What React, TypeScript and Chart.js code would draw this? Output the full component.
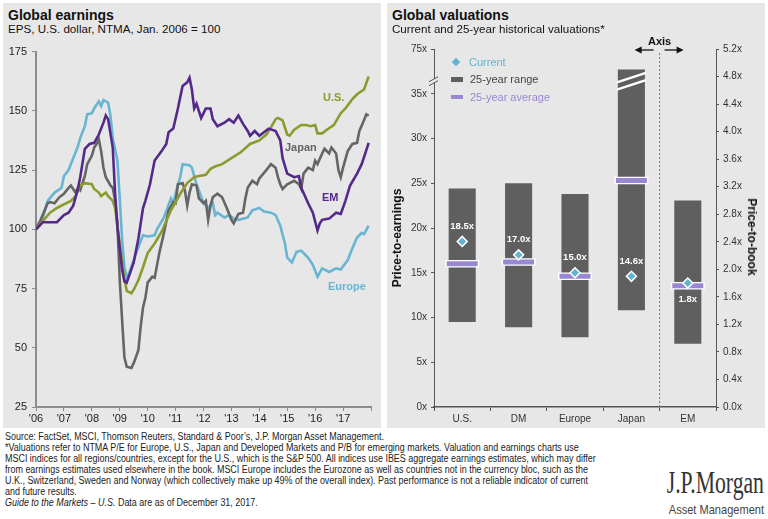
import React, { useEffect, useRef } from 'react';
import { Chart, registerables } from 'chart.js';

Chart.register(...registerables);

const SANS = '"Liberation Sans", Arial, Helvetica, sans-serif';
const NARROW = '"Liberation Sans Narrow", "Arial Narrow", "Liberation Sans", Arial, sans-serif';
const PANEL_BG = '#e7e7e7';

// ---------------- Global earnings (x = months since Jan 2006, y = index, Jan 2006 = 100) ----------------
const YEAR_LABELS = ["'06", "'07", "'08", "'09", "'10", "'11", "'12", "'13", "'14", "'15", "'16", "'17"];

const US: number[][] = [
  [0, 100], [3, 103.5], [6, 107], [9, 109], [12, 110.5], [15, 112], [17, 114], [19, 118.5], [21, 119.5],
  [24, 119], [25, 117], [27, 115.5], [28, 114], [30, 115.5], [31, 114], [33, 112], [34, 109], [36, 94],
  [38, 79], [39, 74], [41, 73], [42, 74.5], [44, 78.5], [46, 84], [48, 90], [51, 94], [54, 99], [58, 108],
  [62, 115], [65, 119.5], [68, 122], [70, 122.5], [73, 123], [75, 125.5], [77, 126.5], [80, 127.5],
  [84, 130], [88, 132.5], [92, 136], [96, 137.5], [99, 140], [101, 143], [103, 146.5], [104, 147],
  [106, 146], [108, 140], [109, 139.5], [111, 142], [114, 144], [116, 144], [118, 143.5], [120, 144],
  [121, 140.5], [123, 140.5], [125, 142], [128, 144], [131, 149], [133, 151], [136, 155], [138, 157],
  [141, 159], [143, 164.5],
];

const JAPAN: number[][] = [
  [0, 100], [2, 104], [5, 111], [6, 111.5], [8, 111], [10, 113.5], [12, 115], [14, 117.5], [15, 118.5],
  [17, 115.5], [18, 117.5], [19, 116.5], [21, 122.5], [22, 127.5], [24, 131], [25, 134.5], [26, 136],
  [27, 138], [28, 133], [29, 126], [30, 122], [32, 118.5], [33, 117.5], [34, 112], [35, 102.5], [36, 78.5],
  [37, 62], [38, 46], [39, 42], [41, 41.5], [42, 43.5], [44, 49], [45, 59], [46, 67], [47, 71], [48, 77.5],
  [50, 80], [51, 79.5], [53, 90], [55, 98.5], [57, 108], [59, 111.5], [60, 111], [61, 119], [63, 119.5],
  [64, 116.5], [65, 110], [66, 115.5], [67, 119], [69, 118.5], [70, 113], [72, 111], [73, 112], [74, 104],
  [75, 110], [76, 113.5], [78, 115], [80, 113.5], [82, 109], [84, 104], [85, 102.5], [87, 106.5], [89, 107],
  [90, 113], [91, 117.5], [93, 120.5], [95, 119], [96, 121.5], [99, 125], [101, 127.5], [103, 126],
  [104, 122], [105, 119], [106, 117], [108, 119], [111, 120.5], [113, 119], [114, 117], [115, 123.5],
  [117, 126], [119, 125], [120, 129], [121, 127.5], [123, 132], [124, 134], [126, 132], [127, 134.5],
  [129, 132], [130, 125], [131, 122], [132, 126], [134, 133], [136, 136], [138, 136.5], [139, 141.5],
  [141, 146], [142, 148.5], [143, 148],
];

const EM: number[][] = [
  [0, 100], [3, 103], [6, 103], [9, 103], [12, 106], [14, 107], [16, 110], [18, 117], [19, 122], [21, 134],
  [23, 136], [25, 136.5], [27, 140], [29, 145], [30, 148], [31, 146.5], [33, 134.5], [34, 115], [35, 101],
  [36, 92], [37, 83], [38, 78], [39, 77.5], [42, 86], [44, 96], [46, 109], [47, 112], [49, 119], [51, 129],
  [54, 133], [56, 136], [57, 141], [59, 142.5], [61, 151], [63, 160.5], [65, 162], [66, 164], [67, 159],
  [68, 151], [69, 153], [71, 147], [73, 151], [75, 151], [76, 146.5], [78, 143.5], [81, 145], [83, 146.5],
  [85, 145], [87, 148], [89, 144.5], [91, 141.5], [92, 139.5], [94, 141.5], [96, 139.5], [100, 142.5],
  [103, 141.5], [105, 137.5], [106, 130], [108, 123.5], [111, 122], [113, 122.5], [114, 117.5], [117, 111],
  [119, 107], [121, 99.5], [122, 102.5], [123, 104], [126, 104.5], [129, 107], [131, 106.5], [133, 112],
  [135, 118.5], [138, 123.5], [140, 127.5], [143, 136.5],
];

const EUROPE: number[][] = [
  [0, 100], [3, 105], [5, 112], [8, 115.5], [11, 117.5], [12, 122.5], [14, 125], [16, 130], [18, 135],
  [19, 138.5], [21, 143.5], [22, 148.5], [24, 149], [25, 151], [27, 154], [28, 152], [29, 154.5],
  [31, 153.5], [32, 148], [33, 138.5], [35, 129], [36, 113], [37, 96], [38, 84], [39, 80], [40, 81.5],
  [42, 87], [44, 92.5], [46, 97.5], [48, 97], [51, 97.5], [52, 100], [55, 105], [58, 113], [59, 111],
  [61, 119], [62, 122], [63, 127.5], [66, 127], [67, 126], [69, 119], [70, 116.5], [72, 111], [74, 109],
  [76, 111], [77, 106], [78, 107], [81, 105], [83, 106], [85, 104.5], [87, 104], [89, 104.5], [91, 105],
  [93, 108], [96, 109], [98, 107.5], [101, 107], [103, 106], [105, 101.5], [107, 94], [108, 88], [110, 86],
  [112, 90.5], [114, 91], [117, 88], [119, 85], [121, 80], [123, 83.5], [126, 82], [129, 83.5], [131, 83],
  [134, 87], [136, 92], [138, 96.5], [140, 98.5], [141, 98], [143, 101.5],
];

// ---------------- Global valuations ----------------
const REGIONS = ['U.S.', 'DM', 'Europe', 'Japan', 'EM'];
const VALUE_AXIS = ['pe', 'pe', 'pe', 'pe', 'pb']; // EM is price-to-book (right axis)
const RANGE_LOW = [9.5, 8.9, 7.8, 10.8, 0.92];
const RANGE_HIGH = [24.4, 25.0, 23.8, 37.7, 3.0]; // Japan runs past the axis break
const AVERAGE = [16.0, 16.2, 14.6, 25.3, 1.76];
const CURRENT = [18.5, 17.0, 15.0, 14.6, 1.8];
const LABEL_BELOW = [false, false, false, false, true];
const PE_TICK_LABELS = ['0x', '5x', '10x', '15x', '20x', '25x', '30x', '35x', '75x'];
const PB_TICK_LABELS = ['0.0x', '0.4x', '0.8x', '1.2x', '1.6x', '2.0x', '2.4x', '2.8x', '3.2x', '3.6x', '4.0x', '4.4x', '4.8x', '5.2x'];
const AXIS_BREAK_PE = 36.4;

const pick = (vals: number[], axis: string) => vals.map((v, i) => (VALUE_AXIS[i] === axis ? v : null));
const pickRange = (axis: string) =>
  RANGE_LOW.map((lo, i) => (VALUE_AXIS[i] === axis ? [lo, RANGE_HIGH[i]] : null));

function EarningsChart() {
  const ref = useRef<HTMLCanvasElement>(null);
  useEffect(() => {
    const mk = (label: string, pts: number[][], color: string) => ({
      label,
      data: pts.map(([x, y]) => ({ x, y })),
      borderColor: color,
      backgroundColor: color,
      borderWidth: 2.6,
      pointRadius: 0,
      tension: 0,
      fill: false,
    });
    const tickFont = { family: SANS, size: 11 };
    const chart = new Chart(ref.current as HTMLCanvasElement, {
      type: 'line',
      data: {
        datasets: [
          mk('EM', EM, '#55298a'),
          mk('U.S.', US, '#8c9a2e'),
          mk('Japan', JAPAN, '#656565'),
          mk('Europe', EUROPE, '#68b5d2'),
        ],
      },
      options: {
        animation: false,
        responsive: false,
        plugins: { legend: { display: false }, tooltip: { enabled: false } },
        layout: { autoPadding: false, padding: { top: 9, right: 10, left: 0, bottom: 0 } },
        scales: {
          x: {
            type: 'linear',
            min: 0,
            max: 144,
            ticks: {
              stepSize: 12,
              autoSkip: false,
              maxRotation: 0,
              padding: 1,
              color: '#222',
              font: tickFont,
              callback: (v: any) => YEAR_LABELS[Math.round(Number(v) / 12)] ?? '',
            },
            grid: { drawOnChartArea: false, drawTicks: true, tickLength: 4, color: '#8c8c8c' },
            border: { display: true, color: '#8c8c8c', width: 2 },
            afterFit: (s: any) => {
              s.height = 21;
            },
          },
          y: {
            min: 25,
            max: 175,
            ticks: { stepSize: 25, padding: 5, color: '#222', font: tickFont },
            grid: { drawOnChartArea: false, drawTicks: true, tickLength: 4, color: '#8c8c8c' },
            border: { display: true, color: '#8c8c8c', width: 2 },
            afterFit: (s: any) => {
              s.width = 36;
            },
          },
        },
      } as any,
    });
    return () => chart.destroy();
  }, []);
  return (
    <canvas
      ref={ref}
      width={381}
      height={388}
      style={{ position: 'absolute', left: 0, top: 40, width: 381, height: 388 }}
    />
  );
}

const valuationDecor = {
  id: 'valuationDecor',
  afterDatasetsDraw(chart: any) {
    const { ctx, chartArea, scales } = chart;
    const xs = scales.x;
    const ys = scales.y;
    ctx.save();

    // broken-scale stripes on the bar that runs past the axis break
    chart.data.datasets.forEach((ds: any, di: number) => {
      if (ds.role !== 'range-pe') return;
      const meta = chart.getDatasetMeta(di);
      meta.data.forEach((bar: any, i: number) => {
        if (VALUE_AXIS[i] !== 'pe' || RANGE_HIGH[i] <= AXIS_BREAK_PE) return;
        const { x, width } = bar.getProps(['x', 'width'], true);
        const yc = ys.getPixelForValue(AXIS_BREAK_PE);
        ctx.strokeStyle = '#ffffff';
        ctx.lineWidth = 2.4;
        for (const off of [-3.6, 3.6]) {
          ctx.beginPath();
          ctx.moveTo(x - width / 2 - 1, yc + off + 4.8);
          ctx.lineTo(x + width / 2 + 1, yc + off - 4.8);
          ctx.stroke();
        }
      });
    });

    // value labels for current valuations
    ctx.font = `bold 9.5px ${SANS}`;
    ctx.fillStyle = '#ffffff';
    ctx.textAlign = 'center';
    ctx.textBaseline = 'middle';
    chart.data.datasets.forEach((ds: any, di: number) => {
      if (ds.role !== 'current') return;
      const meta = chart.getDatasetMeta(di);
      meta.data.forEach((pt: any, i: number) => {
        const v = ds.data[i];
        if (v === null || v === undefined) return;
        const dy = LABEL_BELOW[i] ? 16 : -15;
        ctx.fillText(`${CURRENT[i].toFixed(1)}x`, pt.x, pt.y + dy);
      });
    });

    // axis break on the left scale
    const ax = chartArea.left;
    const yb = ys.getPixelForValue(AXIS_BREAK_PE);
    ctx.fillStyle = PANEL_BG;
    ctx.beginPath();
    ctx.moveTo(ax - 3, yb + 3.5);
    ctx.lineTo(ax + 3, yb + 0.5);
    ctx.lineTo(ax + 3, yb - 3.5);
    ctx.lineTo(ax - 3, yb - 0.5);
    ctx.closePath();
    ctx.fill();
    ctx.strokeStyle = '#555';
    ctx.lineWidth = 1;
    for (const off of [-2, 2]) {
      ctx.beginPath();
      ctx.moveTo(ax - 5, yb + off + 2.5);
      ctx.lineTo(ax + 4, yb + off - 2.5);
      ctx.stroke();
    }

    // separator between P/E and P/B regions
    const sep = (xs.getPixelForValue(3) + xs.getPixelForValue(4)) / 2;
    ctx.strokeStyle = '#7a7a7a';
    ctx.lineWidth = 1;
    ctx.setLineDash([2, 2]);
    ctx.beginPath();
    ctx.moveTo(sep, chartArea.top + 4);
    ctx.lineTo(sep, chartArea.bottom);
    ctx.stroke();
    ctx.setLineDash([]);

    // "Axis" marker with arrows
    const ay = chartArea.top + 1;
    ctx.fillStyle = '#111';
    ctx.font = `bold 11px ${SANS}`;
    ctx.textAlign = 'center';
    ctx.textBaseline = 'middle';
    ctx.fillText('Axis', sep, chartArea.top - 7);
    ctx.strokeStyle = '#111';
    ctx.lineWidth = 1.3;
    const arrow = (from: number, to: number) => {
      const dir = Math.sign(to - from);
      ctx.beginPath();
      ctx.moveTo(from, ay);
      ctx.lineTo(to - dir * 5, ay);
      ctx.stroke();
      ctx.beginPath();
      ctx.moveTo(to, ay);
      ctx.lineTo(to - dir * 7, ay - 3.5);
      ctx.lineTo(to - dir * 7, ay + 3.5);
      ctx.closePath();
      ctx.fill();
    };
    arrow(sep - 6, sep - 25);
    arrow(sep + 5, sep + 24);

    ctx.restore();
  },
};

function ValuationChart() {
  const ref = useRef<HTMLCanvasElement>(null);
  useEffect(() => {
    const tickFont = { family: SANS, size: 10 };
    const avg = (axis: string, color: string, radius: number, width: number, order: number) => ({
      type: 'line',
      role: 'average',
      data: pick(AVERAGE, axis),
      yAxisID: axis === 'pe' ? 'y' : 'y2',
      showLine: false,
      pointStyle: 'line',
      pointRadius: radius,
      pointHoverRadius: radius,
      pointBorderColor: color,
      pointBackgroundColor: color,
      pointBorderWidth: width,
      order,
    });
    const cur = (axis: string) => ({
      type: 'line',
      role: 'current',
      data: pick(CURRENT, axis),
      yAxisID: axis === 'pe' ? 'y' : 'y2',
      showLine: false,
      pointStyle: 'rectRot',
      pointRadius: 5,
      pointHoverRadius: 5,
      pointBackgroundColor: '#62b3cf',
      pointBorderColor: '#ffffff',
      pointBorderWidth: 1.5,
      order: 0,
    });
    const range = (axis: string) => ({
      type: 'bar',
      role: axis === 'pe' ? 'range-pe' : 'range-pb',
      data: pickRange(axis),
      yAxisID: axis === 'pe' ? 'y' : 'y2',
      backgroundColor: '#5f5f5f',
      borderWidth: 0,
      barPercentage: 0.48,
      categoryPercentage: 1,
      grouped: false,
      order: 3,
    });
    const chart = new Chart(ref.current as HTMLCanvasElement, {
      type: 'bar',
      data: {
        labels: REGIONS,
        datasets: [
          cur('pe'),
          cur('pb'),
          avg('pe', '#9a87d4', 15.5, 5, 1),
          avg('pb', '#9a87d4', 15.5, 5, 1),
          avg('pe', '#ffffff', 17, 7.5, 2),
          avg('pb', '#ffffff', 17, 7.5, 2),
          range('pe'),
          range('pb'),
        ] as any,
      },
      options: {
        animation: false,
        responsive: false,
        plugins: { legend: { display: false }, tooltip: { enabled: false } },
        layout: { autoPadding: false, padding: { top: 19, right: 0, left: 0, bottom: 0 } },
        scales: {
          x: {
            offset: true,
            ticks: { color: '#333', font: tickFont, padding: 2, maxRotation: 0 },
            grid: { offset: true, drawOnChartArea: false, drawTicks: true, tickLength: 4, color: '#555' },
            border: { display: true, color: '#555', width: 1.5 },
            afterFit: (s: any) => {
              s.height = 21;
            },
          },
          y: {
            position: 'left',
            min: 0,
            max: 40,
            ticks: {
              stepSize: 5,
              padding: 4,
              color: '#333',
              font: tickFont,
              callback: (v: any) => PE_TICK_LABELS[Math.round(Number(v) / 5)] ?? '',
            },
            grid: { drawOnChartArea: false, drawTicks: true, tickLength: 3, color: '#555' },
            border: { display: true, color: '#555', width: 1 },
            afterFit: (s: any) => {
              s.width = 47;
            },
          },
          y2: {
            position: 'right',
            min: 0,
            max: 5.2,
            ticks: {
              stepSize: 0.4,
              padding: 4,
              color: '#333',
              font: tickFont,
              callback: (v: any) => PB_TICK_LABELS[Math.round(Number(v) / 0.4)] ?? '',
            },
            grid: { drawOnChartArea: false, drawTicks: true, tickLength: 3, color: '#555' },
            border: { display: true, color: '#555', width: 1 },
            afterFit: (s: any) => {
              s.width = 49;
            },
          },
        },
      } as any,
      plugins: [valuationDecor],
    });
    return () => chart.destroy();
  }, []);
  return (
    <canvas
      ref={ref}
      width={378}
      height={398}
      style={{ position: 'absolute', left: 387, top: 30, width: 378, height: 398 }}
    />
  );
}

const abs = (o: React.CSSProperties): React.CSSProperties => ({ position: 'absolute', whiteSpace: 'nowrap', ...o });

const FOOTNOTES = [
  'Source: FactSet, MSCI, Thomson Reuters, Standard & Poor\u2019s, J.P. Morgan Asset Management.',
  '*Valuations refer to NTMA P/E for Europe, U.S., Japan and Developed Markets and P/B for emerging markets. Valuation and earnings charts use',
  'MSCI indices for all regions/countries, except for the U.S., which is the S&P 500. All indices use IBES aggregate earnings estimates, which may differ',
  'from earnings estimates used elsewhere in the book. MSCI Europe includes the Eurozone as well as countries not in the currency bloc, such as the',
  'U.K., Switzerland, Sweden and Norway (which collectively make up 49% of the overall index). Past performance is not a reliable indicator of current',
  'and future results.',
];

export default function App() {
  return (
    <div
      style={{
        position: 'absolute',
        left: 0,
        top: 0,
        width: 768,
        height: 519,
        background: '#ffffff',
        overflow: 'hidden',
        fontFamily: SANS,
        color: '#111',
      }}
    >
      <div style={abs({ left: 3, top: 3, width: 378, height: 425, background: PANEL_BG })} />
      <div style={abs({ left: 387, top: 3, width: 378, height: 425, background: PANEL_BG })} />

      <EarningsChart />
      <ValuationChart />

      {/* Left titles */}
      <div style={abs({ left: 8, top: 7, fontSize: 14, fontWeight: 'bold', lineHeight: '16px' })}>Global earnings</div>
      <div style={abs({ left: 8, top: 22, fontSize: 11.6, lineHeight: '14px' })}>EPS, U.S. dollar, NTMA, Jan. 2006 = 100</div>

      {/* Left series labels */}
      <div style={abs({ left: 323, top: 90, fontSize: 11, fontWeight: 'bold', color: '#8c9a2e', lineHeight: '14px' })}>U.S.</div>
      <div style={abs({ left: 285, top: 140, fontSize: 11, fontWeight: 'bold', color: '#656565', lineHeight: '14px' })}>Japan</div>
      <div style={abs({ left: 322, top: 190, fontSize: 11, fontWeight: 'bold', color: '#55298a', lineHeight: '14px' })}>EM</div>
      <div style={abs({ left: 328, top: 279, fontSize: 11, fontWeight: 'bold', color: '#68b5d2', lineHeight: '14px' })}>Europe</div>

      {/* Right titles */}
      <div style={abs({ left: 392, top: 7, fontSize: 14, fontWeight: 'bold', lineHeight: '16px' })}>Global valuations</div>
      <div style={abs({ left: 392, top: 22, fontSize: 11.6, lineHeight: '14px' })}>Current and 25-year historical valuations*</div>

      {/* Legend */}
      <div style={abs({ left: 453, top: 59, width: 6, height: 6, background: '#62b3cf', transform: 'rotate(45deg)' })} />
      <div style={abs({ left: 469, top: 55, fontSize: 11, color: '#62b3cf', lineHeight: '14px' })}>Current</div>
      <div style={abs({ left: 451, top: 77, width: 12, height: 5, background: '#5f5f5f' })} />
      <div style={abs({ left: 470, top: 72, fontSize: 11, color: '#444', lineHeight: '14px' })}>25-year range</div>
      <div style={abs({ left: 451, top: 95, width: 12, height: 4, background: '#9a87d4' })} />
      <div style={abs({ left: 470, top: 90, fontSize: 11, color: '#9a87d4', lineHeight: '14px' })}>25-year average</div>

      {/* Axis titles */}
      <div
        style={abs({
          left: 397,
          top: 238,
          fontSize: 12,
          fontWeight: 'bold',
          lineHeight: '14px',
          transform: 'translate(-50%, -50%) rotate(-90deg)',
        })}
      >
        Price-to-earnings
      </div>
      <div
        style={abs({
          left: 752,
          top: 237,
          fontSize: 12,
          fontWeight: 'bold',
          lineHeight: '14px',
          transform: 'translate(-50%, -50%) rotate(90deg)',
        })}
      >
        Price-to-book
      </div>

      {/* Footnotes */}
      <div
        style={abs({
          left: 5,
          top: 431,
          fontFamily: NARROW,
          fontSize: 10,
          lineHeight: '11px',
          color: '#222',
          transform: 'scaleX(0.895)',
          transformOrigin: 'left top',
        })}
      >
        {FOOTNOTES.map((t, i) => (
          <div key={i}>{t}</div>
        ))}
        <div>
          <i>Guide to the Markets – U.S.</i> Data are as of December 31, 2017.
        </div>
      </div>

      {/* Logo */}
      <div
        style={abs({
          right: 4,
          top: 466,
          fontFamily: '"Liberation Serif", "Times New Roman", serif',
          fontSize: 31,
          lineHeight: '33px',
          color: '#333',
          transform: 'scaleX(0.7)',
          transformOrigin: 'right top',
        })}
      >
        J.P.Morgan
      </div>
      <div
        style={abs({
          right: 4,
          top: 503,
          fontFamily: NARROW,
          fontSize: 13,
          lineHeight: '14px',
          color: '#444',
          transform: 'scaleX(0.85)',
          transformOrigin: 'right top',
        })}
      >
        Asset Management
      </div>
    </div>
  );
}
